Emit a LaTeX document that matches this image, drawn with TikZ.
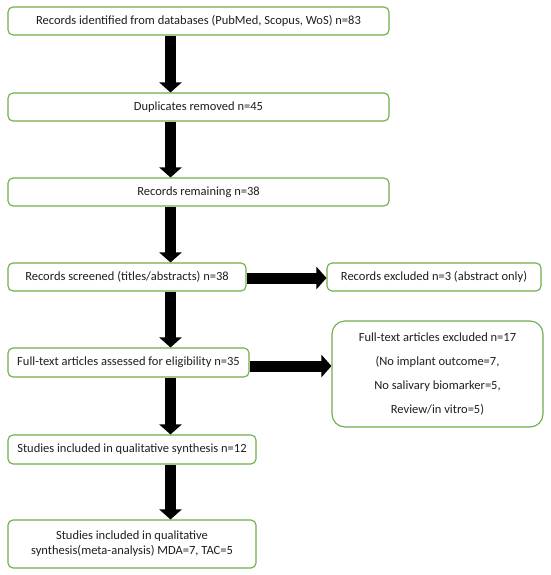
\documentclass[tikz,border=0pt]{standalone}
\usepackage{fontspec}
\setmainfont{Carlito}
\usetikzlibrary{arrows.meta}
\definecolor{boxgreen}{RGB}{112,173,71}
\definecolor{txt}{RGB}{30,30,30}
\tikzset{
  box/.style={draw=boxgreen, line width=1.1pt, rounded corners=5pt, fill=white,
    inner sep=0pt, align=center, text=txt, font=\fontsize{12.5}{15}\selectfont},
  bigbox/.style={box, rounded corners=13pt, font=\fontsize{12.5}{24}\selectfont},
  bigarrow/.style={line width=11pt, draw=black,
    -{Triangle[width=22pt 0 0, length=10pt 0 0]}}
}
\begin{document}
\begin{tikzpicture}[x=1pt,y=-1pt]
\useasboundingbox (0,0) rectangle (550,575);
\node[box, minimum width=381pt, minimum height=28pt] (b1) at (198.5,21) {Records identified from databases (PubMed, Scopus, WoS) n=83};
\node[box, minimum width=381pt, minimum height=28pt] (b2) at (198.5,107) {Duplicates removed n=45};
\node[box, minimum width=381pt, minimum height=28pt] (b3) at (198.5,192) {Records remaining n=38};
\node[box, minimum width=238pt, minimum height=28pt] (b4) at (127,277) {Records screened (titles/abstracts) n=38};
\node[box, minimum width=214pt, minimum height=28pt] (x1) at (434,277) {Records excluded n=3 (abstract only)};
\node[box, minimum width=241pt, minimum height=29pt] (b5) at (128.5,362.5) {Full-text articles assessed for eligibility n=35};
\node[bigbox, minimum width=211pt, minimum height=106pt] (x2) at (437.5,374) {Full-text articles excluded n=17\\(No implant outcome=7,\\No salivary biomarker=5,\\Review/in vitro=5)};
\node[box, minimum width=248pt, minimum height=29pt] (b6) at (132,449.5) {Studies included in qualitative synthesis n=12};
\node[box, minimum width=248pt, minimum height=48pt] (b7) at (132,544) {Studies included in qualitative\\synthesis(meta-analysis) MDA=7, TAC=5};
\coordinate (ax) at (170.5,0);
\draw[bigarrow] (b1.south -| ax) -- (b2.north -| ax);
\draw[bigarrow] (b2.south -| ax) -- (b3.north -| ax);
\draw[bigarrow] (b3.south -| ax) -- (b4.north -| ax);
\draw[bigarrow] (b4.south -| ax) -- (b5.north -| ax);
\draw[bigarrow] (b5.south -| ax) -- (b6.north -| ax);
\draw[bigarrow] (b6.south -| ax) -- (b7.north -| ax);
\draw[bigarrow] ([yshift=-1pt]b4.east) -- ([yshift=-1pt]b4.east -| x1.west);
\draw[bigarrow] ([yshift=-3.5pt]b5.east) -- ([yshift=-3.5pt]b5.east -| x2.west);
\end{tikzpicture}
\end{document}
